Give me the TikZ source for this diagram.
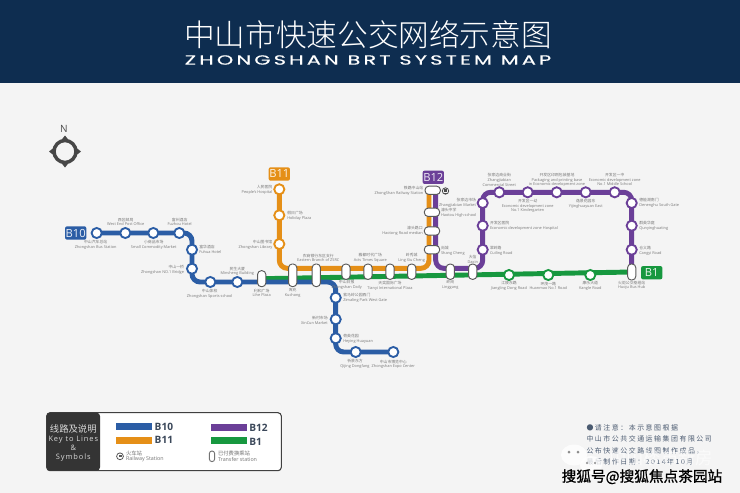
\documentclass[tikz,border=0pt]{standalone}
\usepackage{graphicx}
\usepackage{fontspec}
\setmainfont{Open Sans}
\newfontfamily\cjk{Noto Sans CJK SC}
\newfontfamily\cjklight{Noto Sans CJK SC Light}
\newfontfamily\titlefont{Poppins}
\usetikzlibrary{backgrounds}
\definecolor{navy}{RGB}{14,45,80}
\definecolor{paper}{RGB}{244,244,244}
\definecolor{lineB}{RGB}{43,93,165}
\definecolor{lineO}{RGB}{229,143,23}
\definecolor{lineP}{RGB}{107,63,152}
\definecolor{lineG}{RGB}{23,152,63}
\definecolor{lbl}{RGB}{120,120,120}
\definecolor{noteblue}{RGB}{74,90,112}
\definecolor{keydark}{RGB}{52,52,52}
\tikzset{
	every node/.style={inner sep=0pt,outer sep=0pt},
	route/.style={line width=3.7pt,rounded corners=6pt},
	stn/.style={circle,fill=white,draw=#1,line width=1.4pt,minimum size=7.6pt},
	xfer/.style={rectangle,rounded corners=2.8pt,fill=white,draw=black!65,line width=0.7pt,minimum width=6.2pt,minimum height=#1},
	xferh/.style={rectangle,rounded corners=2.8pt,fill=white,draw=black!65,line width=0.7pt,minimum width=#1,minimum height=6.2pt},
	stlabel/.style={text=lbl,align=center,font=\fontsize{2.9}{3.5}\selectfont},
	tag/.style={fill=#1,rounded corners=1.5pt,minimum width=16pt,minimum height=10pt,text=white!90!#1,font=\fontsize{8.4}{9}\selectfont},
	swatch/.style={draw=none,fill=#1},
	keyname/.style={text=noteblue!80!black,font=\fontsize{7.6}{8}\selectfont\bfseries,anchor=west},
	notetext/.style={text=noteblue,anchor=west,font=\fontsize{5.2}{6}\cjk\addfontfeature{LetterSpace=22}},
}
\begin{document}
\begin{tikzpicture}[x=0.75pt,y=0.75pt,yscale=-1,xscale=1]
	\useasboundingbox (0,0) rectangle (740,493);
	\begin{pgfonlayer}{background}
		\fill [paper] (0,0) rectangle (740,493);
		\fill [navy] (0,0) rectangle (740,83);
	\end{pgfonlayer}

	% header
	\node (title) at (368,35) [text=white,font=\fontsize{23}{25}\cjklight] {中山市快速公交网络示意图};
	\node (subtitle) at (368,60) [text=white,font=\fontsize{10}{11}\titlefont\addfontfeature{LetterSpace=15,FakeBold=0.4}] {\scalebox{1.57}[1]{ZHONGSHAN BRT SYSTEM MAP}};

	% compass
	\node (north) at (64,129) [text=black!70,font=\fontsize{7.5}{8}\selectfont] {N};
	\draw [black!72,line width=2.6pt] (65,151.5) circle (11);
	\foreach \a in {0,90,180,270} {
		\fill [black!72,rotate around={\a:(65,151.5)}] (76,148.3) -- (77.5,148.7) -- (81,151.5) -- (77.5,154.3) -- (76,154.7) -- cycle;
	}

	% line tags
	\node (tagB10) at (75.7,233) [tag=lineB] {B10};
	\node (tagB11) at (279.3,174) [tag=lineO] {B11};
	\node (tagB12) at (433.3,177.3) [tag=lineP] {B12};
	\node (tagB1) at (651.7,272.7) [tag=lineG] {B1};

	% B10 stations
	\node (busst) at (96.7,233) [stn=lineB] {};
	\node (postoff) at (125.3,233) [stn=lineB] {};
	\node (market) at (153.3,233) [stn=lineB] {};
	\node (fuzhou) at (179.3,233) [stn=lineB] {};
	\node (fuhua) at (192,249.7) [stn=lineB] {};
	\node (bridge) at (192,268.7) [stn=lineB] {};
	\node (sports) at (210.3,282) [stn=lineB] {};
	\node (minsheng) at (237.3,282) [stn=lineB] {};
	\node (zimaling) at (335.7,297.7) [stn=lineB] {};
	\node (xincun) at (335.7,319.3) [stn=lineB] {};
	\node (heying) at (335.7,338.3) [stn=lineB] {};
	\node (qijing) at (355.7,352) [stn=lineB] {};
	\node (expo) at (393.3,352) [stn=lineB] {};

	% B11 stations
	\node (hospital) at (279.3,189.3) [stn=lineO] {};
	\node (holiday) at (279.3,215.3) [stn=lineO] {};
	\node (library) at (279.3,244) [stn=lineO] {};

	% B12 stations
	\node (zjbmkt) at (482.7,203) [stn=lineP] {};
	\node (ezhosp) at (482.7,225.7) [stn=lineP] {};
	\node (cuiling) at (482.7,249.7) [stn=lineP] {};
	\node (zjbst) at (499.3,192.3) [stn=lineP] {};
	\node (kinder) at (527.7,192.3) [stn=lineP] {};
	\node (packing) at (556.7,192.3) [stn=lineP] {};
	\node (yijing) at (585.7,192.3) [stn=lineP] {};
	\node (midsch) at (614.7,192.3) [stn=lineP] {};
	\node (denenghu) at (631.7,203) [stn=lineP] {};
	\node (qunying) at (631.7,225.7) [stn=lineP] {};
	\node (cangyi) at (631.7,249.7) [stn=lineP] {};

	% B1 stations
	\node (jiangling) at (509,275) [stn=lineG] {};
	\node (huanmao) at (548.3,275) [stn=lineG] {};
	\node (kangle) at (590.3,275) [stn=lineG] {};

	% transfer stations
	\node (lihe) at (261.7,278.7) [xfer=12pt] {};
	\node (kuchong) at (292.7,275.3) [xfer=17pt] {};
	\node (eastbr) at (316.3,275.3) [xfer=17pt] {};
	\node (zsdaily) at (346,271.7) [xfer=11.5pt] {};
	\node (acts) at (368,271.7) [xfer=11.5pt] {};
	\node (tianyi) at (390,271.7) [xfer=11.5pt] {};
	\node (lingxiu) at (411.7,271.7) [xfer=11.5pt] {};
	\node (linggang) at (450.3,271.7) [xfer=11.5pt] {};
	\node (daxin) at (472.7,271.7) [xfer=11.5pt] {};
	\node (hub) at (631.7,272) [xfer=12pt] {};
	\node (railway) at (432.7,190.3) [xferh=11.5pt] {};
	\node (haotou) at (432,212.3) [xferh=11.5pt] {};
	\node (median) at (432,231) [xferh=11.5pt] {};
	\node (shangch) at (432,249.7) [xferh=11.5pt] {};

	% line corners
	\coordinate (b10a) at (192,233);
	\coordinate (b10b) at (192,282);
	\coordinate (b10c) at (335.7,282);
	\coordinate (b10d) at (335.7,352);
	\coordinate (b11a) at (279.3,268.3);
	\coordinate (b11b) at (429,268.3);
	\coordinate (b11c) at (429,190);
	\coordinate (b12a) at (435.7,190);
	\coordinate (b12b) at (435.7,268.3);
	\coordinate (b12c) at (482.7,268.3);
	\coordinate (b12d) at (482.7,192.3);
	\coordinate (b12e) at (631.7,192.3);

	\begin{pgfonlayer}{background}
		\draw [route,lineG] (lihe.center) -- (hub.center);
		\draw [route,lineB] (busst.center) -- (b10a) -- (b10b) -- (b10c) -- (b10d) -- (expo.center);
		\draw [route,lineO] (hospital.center) -- (b11a) -- (b11b) -- (b11c);
		\draw [route,lineP] (b12a) -- (b12b) -- (b12c) -- (b12d) -- (b12e) -- (hub.center);
	\end{pgfonlayer}

	% railway mark
	\draw [black!70,line width=0.6pt] (445.5,191) circle (3.2);
	\fill [black!70] (444,189.3) rectangle (447,192);
	\draw [black!70,line width=0.5pt] (444,193.5) -- (447,193.5);

	% station names
	\node (n1) at (95.7,245) [stlabel] {{\cjk 中山汽车总站}\\Zhongshan Bus Station};
	\node (n2) at (125.7,222) [stlabel] {{\cjk 西区邮局}\\West End Post Office};
	\node (n3) at (153.7,244.7) [stlabel] {{\cjk 小商品市场}\\Small Commodity Market};
	\node (n4) at (179.7,222) [stlabel] {{\cjk 富州酒店}\\Fuzhou Hotel};
	\node (n5) at (199.3,249.7) [stlabel,anchor=west,align=left] {{\cjk 富华酒店}\\Fuhua Hotel};
	\node (n6) at (184,269.7) [stlabel,anchor=east,align=right] {{\cjk 中山一桥}\\Zhongshan NO.1 Bridge};
	\node (n7) at (209.7,294) [stlabel] {{\cjk 中山体校}\\Zhongshan Sports school};
	\node (n8) at (237.3,271.3) [stlabel] {{\cjk 民生大厦}\\Minsheng Building};
	\node (n9) at (261.7,293) [stlabel] {{\cjk 利和广场}\\Lihe Plaza};
	\node (n10) at (292.7,293) [stlabel] {{\cjk 库充}\\Kuchong};
	\node (n11) at (318.3,258) [stlabel] {{\cjk 农商银行东区支行}\\Eastern Branch of ZSRC};
	\node (n12) at (346.7,285) [stlabel] {{\cjk 中山日报}\\Zhongshan Daily};
	\node (n13) at (370.3,258) [stlabel] {{\cjk 雅都时代广场}\\Acts Times Square};
	\node (n14) at (390,285.7) [stlabel] {{\cjk 天奕国际广场}\\Tianyi International Plaza};
	\node (n15) at (411.7,258) [stlabel] {{\cjk 岭秀城}\\Ling Xiu Cheng};
	\node (n16) at (450.3,284.7) [stlabel] {{\cjk 岭岗}\\Linggang};
	\node (n17) at (472.7,259.3) [stlabel] {{\cjk 大信}\\Daxin};
	\node (n18) at (272.3,190) [stlabel,anchor=east,align=right] {{\cjk 人民医院}\\People's Hospital};
	\node (n19) at (287.3,216) [stlabel,anchor=west,align=left] {{\cjk 假日广场}\\Holiday Plaza};
	\node (n20) at (272.3,244.7) [stlabel,anchor=east,align=right] {{\cjk 中山图书馆}\\Zhongshan Library};
	\node (n21) at (423.3,190.7) [stlabel,anchor=east,align=right] {{\cjk 铁路中山站}\\ZhongShan Railway Station};
	\node (n22) at (441,213) [stlabel,anchor=west,align=left] {{\cjk 濠头中学}\\Haotou High school};
	\node (n23) at (422.7,231) [stlabel,anchor=east,align=right] {{\cjk 濠头路口}\\Haotong Road median};
	\node (n24) at (441,250.7) [stlabel,anchor=west,align=left] {{\cjk 尚城}\\Shang Cheng};
	\node (n25) at (476,203) [stlabel,anchor=east,align=right] {{\cjk 张家边市场}\\Zhangjiabian Market};
	\node (n26) at (490,225.7) [stlabel,anchor=west,align=left] {{\cjk 开发区医院}\\Economic development zone Hospital};
	\node (n27) at (490,250.7) [stlabel,anchor=west,align=left] {{\cjk 翠岭路}\\Cuiling Road};
	\node (n28) at (499.3,180) [stlabel] {{\cjk 张家边商业街}\\Zhangjiabian\\Commercial Street};
	\node (n29) at (527.7,206) [stlabel] {{\cjk 开发区一幼}\\Economic development zone\\No.1 Kindergarten};
	\node (n30) at (557,180) [stlabel] {{\cjk 开发区印刷包装基地}\\Packaging and printing base\\in Economic development zone};
	\node (n31) at (585.7,204) [stlabel] {{\cjk 逸景花园东}\\Yijinghuayuan East};
	\node (n32) at (614.7,179.7) [stlabel] {{\cjk 开发区一中}\\Economic development zone\\No.1 Middle School};
	\node (n33) at (639.3,203) [stlabel,anchor=west,align=left] {{\cjk 德能湖南门}\\Denenghu South Gate};
	\node (n34) at (639.3,225.7) [stlabel,anchor=west,align=left] {{\cjk 群英华庭}\\Qunyinghuating};
	\node (n35) at (639.3,250.7) [stlabel,anchor=west,align=left] {{\cjk 仓义路}\\Cangyi Road};
	\node (n36) at (631.7,285.3) [stlabel] {{\cjk 火炬公交枢纽站}\\Huoju Bus Hub};
	\node (n37) at (509,286) [stlabel] {{\cjk 江陵东路}\\Jiangling Dong Road};
	\node (n38) at (548.3,286) [stlabel] {{\cjk 环茂一路}\\Huanmao No.1 Road};
	\node (n39) at (590.3,286) [stlabel] {{\cjk 康乐大道}\\Kangle Road};
	\node (n40) at (343.3,298) [stlabel,anchor=west,align=left] {{\cjk 紫马岭公园西门}\\Zimaling Park West Gate};
	\node (n41) at (327.7,320.3) [stlabel,anchor=east,align=right] {{\cjk 新村市场}\\XinCun Market};
	\node (n42) at (343.3,339) [stlabel,anchor=west,align=left] {{\cjk 荷英花园}\\Heying Huayuan};
	\node (n43) at (355,364) [stlabel] {{\cjk 祈景东方}\\Qijing Dongfang};
	\node (n44) at (393.3,364.3) [stlabel] {{\cjk 中山市博览中心}\\Zhongshan Expo Center};

	% key panel
	\draw [black!75,line width=0.8pt,fill=white,rounded corners=2.5pt] (46.7,412.7) rectangle (281.3,470.7);
	\fill [keydark,rounded corners=2.5pt] (100,412.7) -- (46.7,412.7) -- (46.7,470.7) -- (100,470.7) -- cycle;
	\node (keycn) at (73.3,429) [text=white!85!black,font=\fontsize{7}{8}\cjk] {线路及说明};
	\node (keyen) at (73.3,448.3) [text=white!85!black,align=center,font=\fontsize{5.6}{6.7}\selectfont\addfontfeature{LetterSpace=12}] {Key to Lines\\\&\\Symbols};
	\fill [swatch=lineB] (116,423.3) rectangle (152.3,430.3);
	\fill [swatch=lineO] (116,436.7) rectangle (152.3,443.7);
	\fill [swatch=lineP] (211,424.3) rectangle (247.3,431);
	\fill [swatch=lineG] (211,437) rectangle (247.3,444);
	\node (keyB10) at (154.7,427) [keyname] {B10};
	\node (keyB11) at (154.7,440.3) [keyname] {B11};
	\node (keyB12) at (249.3,427.7) [keyname] {B12};
	\node (keyB1) at (249.3,441.7) [keyname] {B1};
	\draw [black!65,line width=0.6pt] (120,456.3) circle (3.4);
	\fill [black!65] (118.5,454.6) rectangle (121.5,457.3);
	\node (keyrail) at (126,456.3) [stlabel,anchor=west,align=left,text=black!55,font=\fontsize{4}{4.2}\selectfont] {{\cjk 火车站}\\Railway Station};
	\node (keyxfer) at (212,456.3) [xfer=8pt,minimum width=4pt,rounded corners=2pt,draw=black!55] {};
	\node (keyxfertxt) at (218,456.3) [stlabel,anchor=west,align=left,text=black!55,font=\fontsize{4}{4.2}\selectfont] {{\cjk 已付费换乘站}\\Transfer station};

	% note, bottom right
	\node (note1) at (586.5,428) [notetext] {●请注意：本示意图根据};
	\node (note2) at (586.5,439.3) [notetext] {中山市公共交通运输集团有限公司};
	\node (note3) at (586.5,450.7) [notetext] {公布快速公交路线图制作成品，};
	\node (note4) at (586.5,461.7) [notetext] {最后制作日期：2014年10月};

	% reposted marks
	\fill [white,opacity=0.75] (574,455) ellipse (13 and 10.5);
	\fill [white,opacity=0.75] (591,465) ellipse (11 and 9);
	\fill [black!45] (569,452) circle (1.5) (578,452) circle (1.5) (587,463) circle (1.2) (595,463) circle (1.2);
	\node (faint) at (661,458) [text=white,opacity=0.6,font=\fontsize{13}{14}\cjk] {中山楼市新房};
	\node (repost) at (642,476.7) [text=black,font=\fontsize{11}{12}\cjk\addfontfeature{FakeBold=1}] {搜狐号@搜狐焦点茶园站};
\end{tikzpicture}
\end{document}
